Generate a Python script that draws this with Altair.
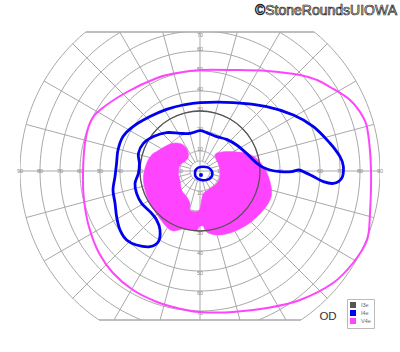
import altair as alt
import numpy as np
import pandas as pd

# ---------------- grid definition (degrees of eccentricity) ----------------
ring_ecc = [5, 10, 20, 30, 40, 50, 60, 70, 80, 90]
meridian_deg = [0, 15, 30, 45, 60, 75, 90, 105, 120, 135, 150, 165,
                180, 195, 210, 225, 240, 255, 270, 285, 300, 315, 330, 345]
horiz_labels = [10, 20, 30, 40, 50, 60, 70, 80, 90]
vert_labels = [10, 20, 30, 40, 50, 60, 70]
top_cut = 69.5
bottom_cut = -74.5

iso_names = ["I3e", "I4e", "V4e"]
iso_colors = ["#555555", "#0000ee", "#ff44ff"]

# ---------------- isopters ----------------
# I3e: eccentricity on each meridian
i3e_ecc = [30, 30, 30, 30, 30, 30, 30, 30, 30, 30, 30, 30,
           30, 30, 30, 30, 30, 30, 30, 30, 30, 30, 30, 30]

# V4e outer isopter (x, y in degrees)
v4e_x = [0, 16.5, 33.5, 50, 58.5, 65, 75, 81.5, 84, 85.5, 85, 83.5, 76.5, 66.5,
         50, 33.5, 16.5, 0, -11.5, -21.5, -33.5, -43.5, -50.5, -55.5, -58, -58.5,
         -57.5, -55, -50, -36.5, -21.5, -11.5]
v4e_y = [50.5, 50.5, 50, 48, 45.5, 42, 35.5, 27, 19, 0.5, -21, -34.5, -46, -56,
         -64.5, -68.5, -70.5, -70.5, -68.5, -65.5, -59.5, -51, -41, -28, -14.5, -1,
         14, 24, 30.5, 39.5, 46.5, 49]

# V4e scotoma (filled area)
scot_x = [-21.7, -15, -10, -6.7, -5.8, -7.5, -10, -10.8, -10, -9.2, -6.7, -5, -5,
          -1.7, 0, 0.8, 1.7, 5, 8.3, 10, 9.7, 8, 7.5, 9.2, 15, 23.3, 28.3, 31.7,
          34.2, 35.8, 35, 31.7, 26.7, 21.7, 15, 8.3, 3.3, 1.5, -0.5, -1.7, -8.3,
          -13.3, -16.7, -20.8, -25, -27.5, -28.3, -26.7, -24.2]
scot_y = [9.7, 13.5, 13.8, 11.3, 7.2, 4.7, 3, -1.2, -4.5, -9.5, -12.8, -16.2, -19.5,
          -20.3, -18.7, -14.5, -11.2, -8.7, -6.2, -2.8, 2.2, 6.3, 8, 9.2, 9.7, 8.8,
          6.3, 2.2, -2.8, -9.5, -14.5, -19.5, -24.5, -28, -31, -32, -30.5, -27.5,
          -28, -29.5, -29, -30, -28, -22.8, -16.2, -9.5, -2.8, 3.8, 8]

# I4e large isopter
i4e_x = [0, 16.7, 33.3, 46.7, 56.7, 65, 70, 71.7, 70.8, 66.7, 61.7, 56.7, 51.7,
         49.2, 45.8, 40, 35, 30.8, 27.5, 23.3, 18.3, 13.3, 8.3, 3.3, 0, -5, -10,
         -16.7, -23.3, -28.3, -30.8, -30.3, -30.8, -32.5, -31.7, -29.2, -25, -21.7,
         -20, -20.8, -25, -31.7, -36.7, -40, -41.7, -42.5, -43.5, -42.5, -41.7, -41,
         -38.5, -33.5, -25, -16.7, -8.5]
i4e_y = [34.2, 34.2, 32.2, 28, 22.2, 13.9, 7.2, 2.2, -3.7, -6.2, -5.3, -2.8, -0.3,
         0.5, -0.3, -0.3, 0.5, 2.2, 4.7, 8.8, 13, 15.8, 17.2, 19.2, 20.2, 18.8, 18.8,
         19.2, 17.2, 13.8, 8.8, 3.8, -1.2, -6.2, -11.2, -16.2, -20.3, -24.5, -29.5,
         -35.3, -37.8, -37, -34.5, -29.5, -22.8, -16, -9.5, -2.8, 4, 10.5, 17.2,
         22.2, 27.2, 30.8, 33]

# I4e central isopter
i4c_x = [-2.5, -2.1, -0.6, 1.6, 3.8, 5.5, 6.2, 5.6, 3.8, 1.4, -0.7, -2.1]
i4c_y = [-1.2, 0.6, 1.8, 2.1, 1.8, 0.6, -1.2, -3.1, -4.3, -4.6, -4.1, -2.9]

# I4e central seeing point
dot_x = [0.5]
dot_y = [-2]

# ---------------- build tables ----------------
ring_rows = []
for r in ring_ecc:
    for i, a in enumerate(np.arange(0, 361, 2)):
        t = np.radians(a)
        ring_rows.append({"ring": r, "i": i, "x": r * np.cos(t), "y": r * np.sin(t)})
rings_df = pd.DataFrame(ring_rows)

spoke_rows = []
for m in meridian_deg:
    t = np.radians(m)
    r0 = 0 if m % 90 == 0 else 5
    spoke_rows.append({"x": r0 * np.cos(t), "y": r0 * np.sin(t),
                       "x2": 90 * np.cos(t), "y2": 90 * np.sin(t)})
spokes_df = pd.DataFrame(spoke_rows)

ht = np.sqrt(90 ** 2 - top_cut ** 2)
hb = np.sqrt(90 ** 2 - bottom_cut ** 2)
cuts_df = pd.DataFrame({"x": [-ht, -hb], "x2": [ht, hb], "y": [top_cut, bottom_cut]})

lab_rows = []
for v in horiz_labels:
    lab_rows.append({"x": v, "y": 0, "t": str(v)})
    lab_rows.append({"x": -v, "y": 0, "t": str(v)})
for v in vert_labels:
    lab_rows.append({"x": 0, "y": v - (2 if v == 70 else -1), "t": str(v)})
    lab_rows.append({"x": 0, "y": -v - 1, "t": str(v)})
labels_df = pd.DataFrame(lab_rows)

i3e_df = pd.DataFrame({
    "x": [r * np.cos(np.radians(m)) for r, m in zip(i3e_ecc, meridian_deg)],
    "y": [r * np.sin(np.radians(m)) for r, m in zip(i3e_ecc, meridian_deg)],
})
i3e_df["iso"] = "I3e"
i3e_df["i"] = range(len(i3e_df))

def iso_df(xs, ys, name):
    d = pd.DataFrame({"x": xs, "y": ys})
    d["iso"] = name
    d["i"] = range(len(d))
    return d

v4e_df = iso_df(v4e_x, v4e_y, "V4e")
scot_df = iso_df(scot_x, scot_y, "V4e")
i4e_df = iso_df(i4e_x, i4e_y, "I4e")
i4c_df = iso_df(i4c_x, i4c_y, "I4e")
dot_df = iso_df(dot_x, dot_y, "I4e")

col = dict(zip(iso_names, iso_colors))

# ---------------- scales ----------------
xs = alt.Scale(domain=[-90, 90], nice=False, zero=False)
ys = alt.Scale(domain=[bottom_cut, top_cut], nice=False, zero=False)
cs = alt.Scale(domain=iso_names, range=iso_colors)
X = alt.X("x:Q", scale=xs, axis=None)
Y = alt.Y("y:Q", scale=ys, axis=None)
grid_col = "#a9a9a9"

rings = alt.Chart(rings_df).mark_line(color=grid_col, strokeWidth=1, clip=True).encode(
    x=X, y=Y, detail="ring:N", order="i:Q")
spokes = alt.Chart(spokes_df).mark_rule(color=grid_col, strokeWidth=1, clip=True).encode(
    x=X, y=Y, x2="x2:Q", y2="y2:Q")
cuts = alt.Chart(cuts_df).mark_rule(color=grid_col, strokeWidth=1.3).encode(
    x=X, x2="x2:Q", y=Y)
labels = alt.Chart(labels_df).mark_text(fontSize=5.5, color="#888888", font="Liberation Sans").encode(
    x=X, y=Y, text="t:N")

def iso_line(df, width, name):
    return alt.Chart(df).mark_line(strokeWidth=width, interpolate="cardinal-closed",
                                   color=col[name]).encode(x=X, y=Y, order="i:Q")

scot = alt.Chart(scot_df).mark_line(strokeWidth=0.5, interpolate="cardinal-closed",
                                     color=col["V4e"], fill=col["V4e"]).encode(
    x=X, y=Y, order="i:Q")
i3e = iso_line(i3e_df, 1.3, "I3e")
v4e = iso_line(v4e_df, 2.0, "V4e")
i4e = iso_line(i4e_df, 2.8, "I4e")
i4c = iso_line(i4c_df, 2.6, "I4e")
dot = alt.Chart(dot_df).mark_circle(size=16, opacity=1).encode(
    x=X, y=Y,
    fill=alt.Fill("iso:N", scale=cs,
                  legend=alt.Legend(orient="none", legendX=327, legendY=267, title=None,
                                    symbolType="square", symbolSize=36, labelFontSize=5.5,
                                    labelColor="#666666", padding=3, strokeColor="#bbbbbb",
                                    fillColor="white", rowPadding=1, labelOffset=5,
                                    labelLimit=40, symbolStrokeWidth=0,
                                    labelFont="Liberation Sans")))

od = alt.Chart(pd.DataFrame({"t": ["OD"]})).mark_text(
    fontSize=11.5, color="#333333", font="Liberation Sans").encode(
    x=alt.datum(64), y=alt.datum(-73), text="t:N")
credit = alt.Chart(pd.DataFrame({"t": ["©StoneRoundsUIOWA"]})).mark_text(
    fontSize=14, fill="white", stroke="#222222", strokeWidth=0.7, align="right",
    baseline="alphabetic", font="Liberation Sans").encode(
    x=alt.datum(98.5), y=alt.datum(78), text="t:N")

chart = alt.layer(rings, spokes, cuts, labels, scot, i3e, v4e, i4e, i4c, dot, od, credit).properties(
    width=360, height=288,
    padding={"left": 20, "top": 32, "right": 20, "bottom": 32},
    autosize=alt.AutoSizeParams(type="none"),
    background="white",
).configure_view(stroke=None)

chart.save("out.html", embed_options={"renderer": "svg", "actions": False})
